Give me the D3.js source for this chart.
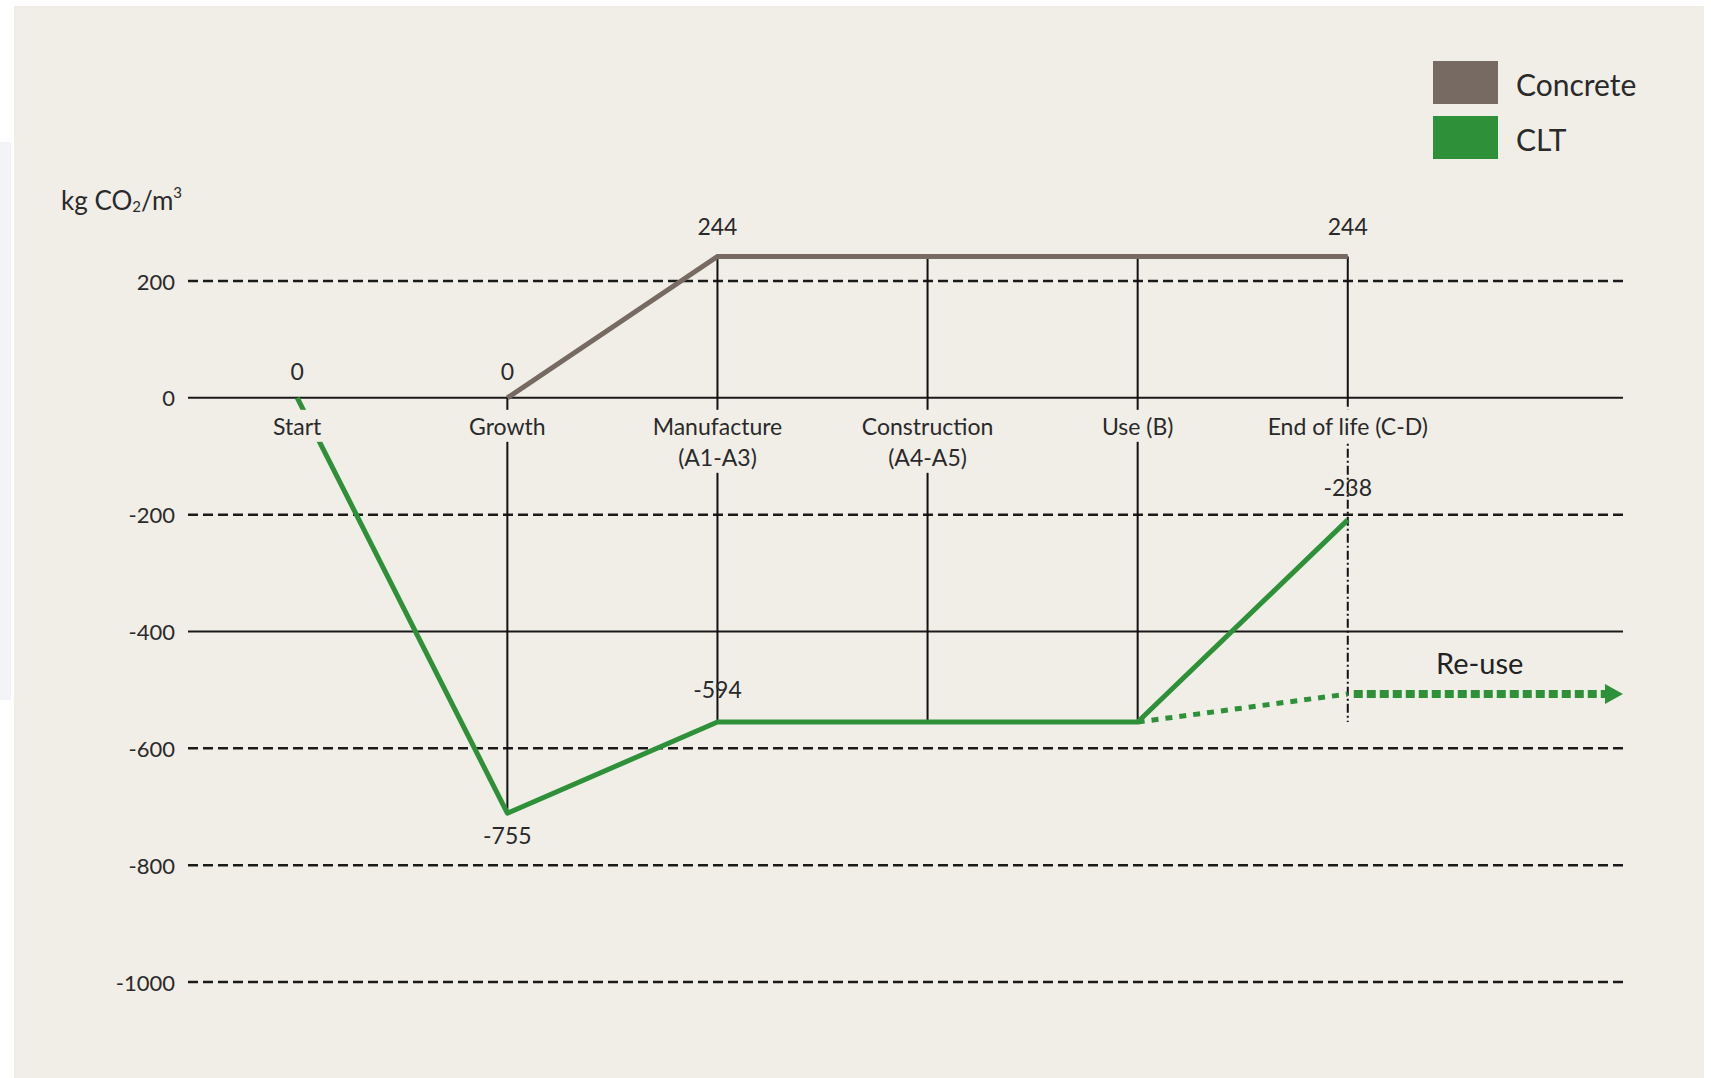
<!DOCTYPE html>
<html>
<head>
<meta charset="utf-8">
<script src="https://cdn.jsdelivr.net/npm/d3@7"></script>
<style>
  body { margin: 0; background: #fff; }
  svg { display: block; font-family: Lato, "Open Sans", sans-serif; }
</style>
</head>
<body>
<svg id="chart" width="1711" height="1078"></svg>
<script>
// stages along the life cycle
const stages = ["Start", "Growth", "Manufacture", "Construction", "Use (B)", "End of life (C-D)"];
const stageSub = ["", "", "(A1-A3)", "(A4-A5)", "", ""];

// values as drawn (the picture's lines don't sit exactly on their labels)
const concrete = [null, 0, 242, 242, 242, 242];
const clt = [0, -711, -555, -555, -555, -209];
// re-use path: from Use (B) to End of life, then on to the right edge
const reuse = [-555, -507, -507];

// the numbers printed next to the points
const concreteLabels = [null, "0", "244", null, null, "244"];
const cltLabels = ["0", "-755", "-594", null, null, "-238"];

const yTicks = [200, 0, -200, -400, -600, -800, -1000];
const solidTicks = [0, -400];

const seriesNames = ["Concrete", "CLT"];
const seriesColors = ["#766a62", "#2e9139"];

const bg = "#f1eee7";
const ink = "#2a2a2a";

const svg = d3.select("#chart");

// faint strip at the far left + beige panel
svg.append("rect").attr("x", 0).attr("y", 142).attr("width", 11).attr("height", 558).attr("fill", "#f3f4f8");
svg.append("rect").attr("x", 14).attr("y", 6).attr("width", 1690).attr("height", 1072).attr("fill", bg);

const x = d3.scaleLinear().domain([-0.52, 6.31]).range([188, 1623]);
const y = d3.scaleLinear().domain([-1000, 200]).range([982, 281]);
const [xMin, xMax] = x.domain();

// grid
svg.append("g").selectAll("line").data(yTicks).join("line")
  .attr("x1", x(xMin)).attr("x2", x(xMax))
  .attr("y1", d => y(d)).attr("y2", d => y(d))
  .attr("stroke", "#1a1a1a")
  .attr("stroke-width", d => solidTicks.includes(d) ? 2 : 2.5)
  .attr("stroke-dasharray", d => solidTicks.includes(d) ? null : "10,5");

svg.append("g").selectAll("text").data(yTicks).join("text")
  .attr("x", 175).attr("y", d => y(d))
  .attr("text-anchor", "end").attr("dominant-baseline", "central")
  .attr("font-size", 22).attr("fill", ink)
  .text(d => d);

// stage verticals
const verts = d3.range(1, 5).map(i => ({ i, top: concrete[i], bottom: clt[i] }));
svg.append("g").selectAll("line").data(verts).join("line")
  .attr("x1", d => x(d.i)).attr("x2", d => x(d.i))
  .attr("y1", d => y(d.top)).attr("y2", d => y(d.bottom))
  .attr("stroke", "#111").attr("stroke-width", 2);

// end of life: solid above zero, dash-dot below
svg.append("line")
  .attr("x1", x(5)).attr("x2", x(5)).attr("y1", y(concrete[5])).attr("y2", y(0))
  .attr("stroke", "#111").attr("stroke-width", 2);
svg.append("line")
  .attr("x1", x(5)).attr("x2", x(5)).attr("y1", y(0)).attr("y2", y(clt[4]))
  .attr("stroke", "#111").attr("stroke-width", 2).attr("stroke-dasharray", "9,3,2,3");

const line = d3.line().defined(d => d[1] != null).x(d => x(d[0])).y(d => y(d[1]));

svg.append("path")
  .attr("d", line(concrete.map((v, i) => [i, v])))
  .attr("fill", "none").attr("stroke", seriesColors[0]).attr("stroke-width", 5)
  .attr("stroke-linejoin", "miter");

svg.append("path")
  .attr("d", line(clt.map((v, i) => [i, v])))
  .attr("fill", "none").attr("stroke", seriesColors[1]).attr("stroke-width", 5)
  .attr("stroke-linejoin", "round");

// re-use: thin dots on the slope, heavy dashes + arrow after end of life
const reusePts = [[4, reuse[0]], [5, reuse[1]], [xMax, reuse[2]]];
svg.append("path")
  .attr("d", line(reusePts.slice(0, 2)))
  .attr("fill", "none").attr("stroke", seriesColors[1]).attr("stroke-width", 5)
  .attr("stroke-dasharray", "7,7");
const tip = [x(reusePts[2][0]), y(reusePts[2][1])];
svg.append("path")
  .attr("d", d3.line()([[x(reusePts[1][0]) + 6, y(reusePts[1][1])], [tip[0] - 14, tip[1]]]))
  .attr("fill", "none").attr("stroke", seriesColors[1]).attr("stroke-width", 8)
  .attr("stroke-dasharray", "9,4");
svg.append("path")
  .attr("d", d3.line()([[tip[0] - 18, tip[1] - 10], tip, [tip[0] - 18, tip[1] + 10]]) + "Z")
  .attr("fill", seriesColors[1]);

svg.append("text")
  .attr("x", x(5.42)).attr("y", y(reuse[2]) - 32)
  .attr("dominant-baseline", "central")
  .attr("font-size", 29).attr("fill", "#222")
  .text("Re-use");

// stage labels with a panel-coloured box behind them
const labG = svg.append("g");
stages.forEach((s, i) => {
  const g = labG.append("g");
  const box = g.append("rect").attr("fill", bg);
  g.append("text")
    .attr("x", x(i)).attr("y", y(0) + 28)
    .attr("text-anchor", "middle").attr("dominant-baseline", "central")
    .attr("font-size", 23).attr("fill", ink).text(s);
  if (stageSub[i]) {
    g.append("text")
      .attr("x", x(i)).attr("y", y(0) + 59)
      .attr("text-anchor", "middle").attr("dominant-baseline", "central")
      .attr("font-size", 23).attr("fill", ink).text(stageSub[i]);
  }
  const bb = g.node().getBBox();
  box.attr("x", bb.x - 3).attr("y", bb.y - 2).attr("width", bb.width + 6).attr("height", bb.height + 4);
});

// value labels
const valueLabels = [];
concreteLabels.forEach((t, i) => { if (t) valueLabels.push({ i, v: concrete[i], t, dy: i === 1 ? -27 : -30 }); });
cltLabels.forEach((t, i) => {
  if (t) valueLabels.push({ i, v: clt[i], t, dy: i === 1 ? 22 : (i === 0 ? -27 : -33) });
});
svg.append("g").selectAll("text").data(valueLabels).join("text")
  .attr("x", d => x(d.i)).attr("y", d => y(d.v) + d.dy)
  .attr("text-anchor", "middle").attr("dominant-baseline", "central")
  .attr("font-size", 23).attr("fill", ink)
  .text(d => d.t);

// unit label
const unit = svg.append("text").attr("x", 61).attr("y", 200)
  .attr("dominant-baseline", "central").attr("font-size", 26).attr("fill", ink);
unit.append("tspan").text("kg CO");
unit.append("tspan").attr("font-size", 15).attr("dy", 6).text("2");
unit.append("tspan").attr("dy", -6).text("/m");
unit.append("tspan").attr("font-size", 15).attr("dy", -8).text("3");

// legend
const leg = svg.append("g").selectAll("g").data(seriesNames).join("g")
  .attr("transform", (d, i) => `translate(1433, ${61 + i * 55})`);
leg.append("rect").attr("width", 65).attr("height", 43).attr("fill", (d, i) => seriesColors[i]);
leg.append("text").attr("x", 83).attr("y", 23)
  .attr("dominant-baseline", "central").attr("font-size", 30).attr("fill", ink)
  .text(d => d);
</script>
</body>
</html>
